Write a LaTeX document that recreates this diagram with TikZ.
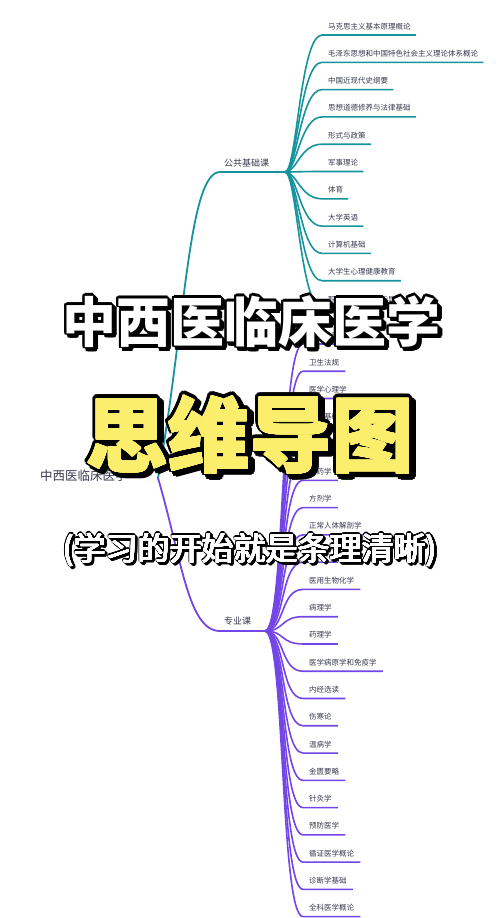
\documentclass[tikz,border=0pt]{standalone}
\usepackage{fontspec}
\newfontfamily\cjk{Noto Sans CJK SC}
\usepackage[copies]{contour}
\contournumber{16}
\definecolor{tealc}{RGB}{22,148,158}
\definecolor{purc}{RGB}{116,70,232}
\definecolor{txtc}{RGB}{55,58,78}
\definecolor{ylwc}{RGB}{250,238,108}
\tikzset{
  tealmain/.style={draw=tealc, line width=1.8pt},
  tealchild/.style={draw=tealc, line width=1.6pt},
  purpmain/.style={draw=purc, line width=1.8pt},
  purpchild/.style={draw=purc, line width=1.6pt},
  ctext/.style={inner sep=0pt, text=txtc, font=\cjk\fontsize{7.5}{9}\selectfont},
  lbltext/.style={inner sep=0pt, text=txtc, font=\cjk\fontsize{9}{11}\selectfont},
  roottext/.style={inner sep=0pt, text=txtc, font=\cjk\fontsize{12.5}{15}\selectfont},
  titleA/.style={inner sep=0pt, font=\cjk\bfseries\fontsize{54}{60}\selectfont},
  titleB/.style={inner sep=0pt, font=\cjk\bfseries\fontsize{82}{90}\selectfont},
  titleC/.style={inner sep=0pt, font=\cjk\fontsize{32}{38}\selectfont},
}
\begin{document}
\begin{tikzpicture}[x=1pt,y=-1pt]
\useasboundingbox (0,0) rectangle (500,918);
\fill[white] (0,0) rectangle (500,918);

% root
\node[roottext, anchor=base west] (root) at (40,480) {中西医临床医学};
\coordinate (rootout) at (158,478);

% public branch
\node[lbltext, anchor=base west] (pub) at (224,166.5) {公共基础课};
\coordinate (pubL) at (220,172);
\coordinate (pubF) at (285,172);
\draw[tealmain] (rootout) .. controls (185,330) and (188,172) .. (pubL) -- (pubF);

% professional branch
\node[lbltext, anchor=base west] (pro) at (224,624.5) {专业课};
\coordinate (proL) at (220,631);
\coordinate (proF) at (265,631);
\draw[purpmain] (rootout) .. controls (182,560) and (188,631) .. (proL) -- (proF);

% public children
\foreach \t [count=\i] in {马克思主义基本原理概论,毛泽东思想和中国特色社会主义理论体系概论,中国近现代史纲要,思想道德修养与法律基础,形式与政策,军事理论,体育,大学英语,计算机基础,大学生心理健康教育,职业发展与就业指导}{
  \pgfmathsetmacro{\yy}{35+27.3*(\i-1)}
  \node[ctext, anchor=base west] (pc\i) at (328,\yy-6) {\t};
  \path (pc\i.base east) ++(5,6) coordinate (pe\i);
  \draw[tealchild] (pubF) .. controls (297,172) and (300,\yy) .. (322,\yy) -- (pe\i);
}

% professional children
\foreach \t [count=\i] in {医学伦理学,卫生法规,医学心理学,中医基础理论,中医诊断学,中药学,方剂学,正常人体解剖学,生理学,医用生物化学,病理学,药理学,医学病原学和免疫学,内经选读,伤寒论,温病学,金匮要略,针灸学,预防医学,循证医学概论,诊断学基础,全科医学概论}{
  \pgfmathsetmacro{\yy}{344+27.27*(\i-1)}
  \node[ctext, anchor=base west] (sc\i) at (309,\yy-6) {\t};
  \path (sc\i.base east) ++(6,6) coordinate (se\i);
  \draw[purpchild] (proF) .. controls (285,631) and (280,\yy) .. (303,\yy) -- (se\i);
}

% title overlays
\node[titleA, text=black] (tAs) at (254,325) {\contourlength{2pt}\contour{black}{中西医临床医学}};
\node[titleA, text=black] (tAo) at (251,322) {\contourlength{2pt}\contour{black}{中西医临床医学}};
\node[titleA, text=white] (tA) at (251,322) {中西医临床医学};

\node[titleB, text=black] (tBs) at (254,439) {\contourlength{3.5pt}\contour{black}{思维导图}};
\node[titleB, text=black] (tBo) at (250,435) {\contourlength{3.5pt}\contour{black}{思维导图}};
\node[titleB, text=ylwc] (tB) at (250,435) {\contourlength{0.5pt}\contour{ylwc}{思维导图}};

\node[titleC, text=black] (tCs) at (252,552) {\contourlength{1.3pt}\contour{black}{(学习的开始就是条理清晰)}};
\node[titleC, text=black] (tCo) at (250,550) {\contourlength{1.3pt}\contour{black}{(学习的开始就是条理清晰)}};
\node[titleC, text=white] (tC) at (250,550) {\contourlength{0.3pt}\contour{white}{(学习的开始就是条理清晰)}};
\end{tikzpicture}
\end{document}
